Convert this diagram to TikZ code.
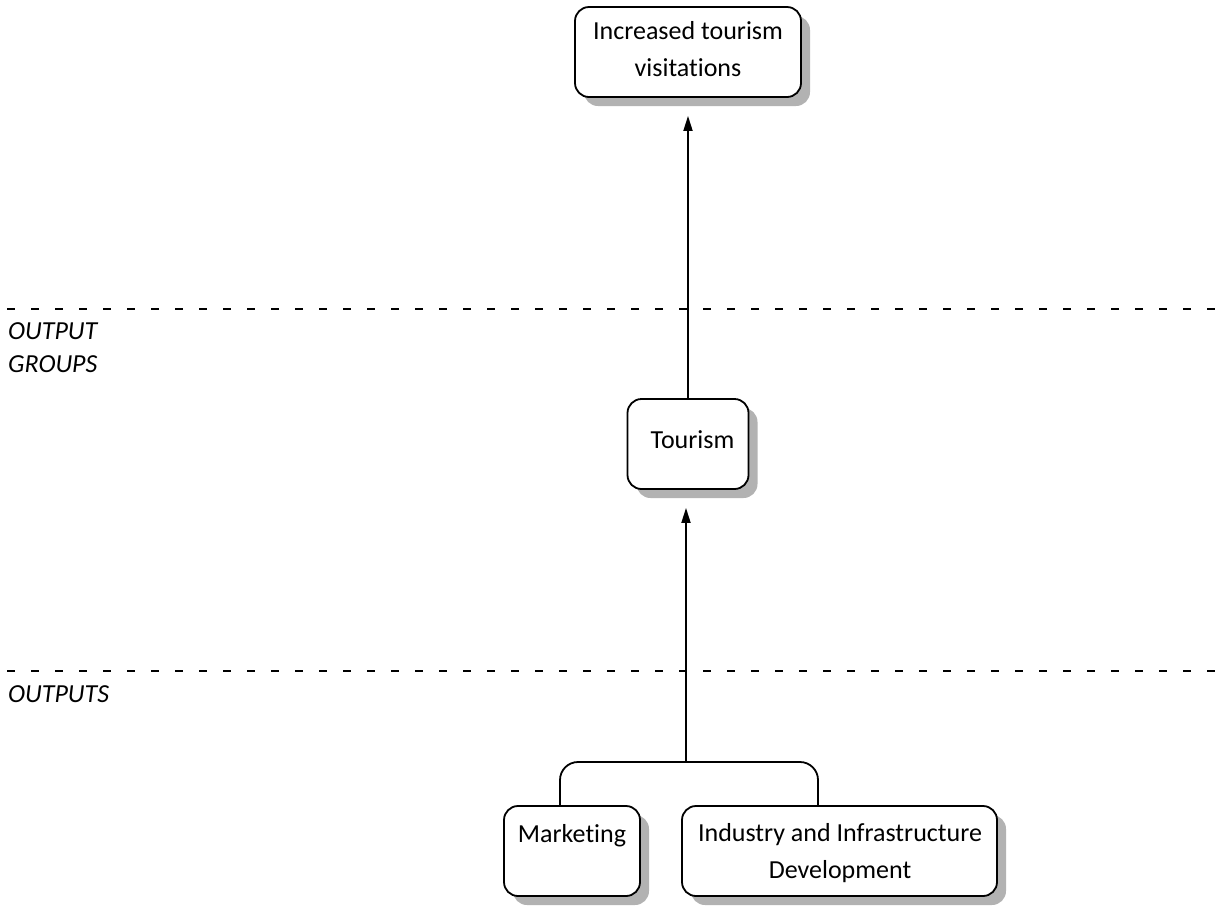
\documentclass[tikz,border=0pt]{standalone}
\usepackage{fontspec}
\setmainfont{Carlito}[Ligatures=NoCommon]
\usetikzlibrary{arrows.meta,shadows,calc}

\begin{document}
\begin{tikzpicture}[x=1pt,y=-1pt,
  ln/.style={line width=1.8pt, draw=black},
  box/.style={ln, rounded corners=14pt, fill=white, minimum height=90pt,
    inner sep=0pt,
    drop shadow={shadow xshift=9pt, shadow yshift=-9pt, fill=black!30, opacity=1}},
  txt/.style={inner sep=0pt, font=\fontsize{26}{37}\selectfont, align=center},
  layer/.style={inner sep=0pt, font=\fontsize{26}{33}\selectfont\itshape, align=left},
  arr/.style={ln, -{Triangle[length=15pt, width=9pt]}, shorten >=18pt},
  divider/.style={line width=1.8pt, dash pattern=on 8pt off 16pt}
]
\useasboundingbox (0,0) rectangle (1215,906);

% layer dividers
\coordinate (d1a) at (7,309);  \coordinate (d1b) at (1215,309);
\coordinate (d2a) at (7,671);  \coordinate (d2b) at (1215,671);
\draw[divider] (d1a) -- (d1b);
\draw[divider] (d2a) -- (d2b);

\node[layer, anchor=west] (lgroups) at (8,348) {OUTPUT\\GROUPS};
\node[layer, anchor=base west] (louts) at (8,702) {OUTPUTS};

% boxes
\node[box, minimum width=226pt] (goal) at (688,52) {};
\node[box, minimum width=121pt] (tour) at (688,444) {};
\node[box, minimum width=136pt] (mkt) at (572,851) {};
\node[box, minimum width=315pt] (ind) at (839.5,851) {};

% box texts
\node[txt] (goalT) at (688,49) {Increased tourism\\visitations};
\node[txt, anchor=base] (tourT) at (692.5,448) {Tourism};
\node[txt, anchor=base] (mktT) at (572,842) {Marketing};
\node[txt] (indT) at (840,853) {Industry and Infrastructure\\Development};

% connectors
\coordinate (join) at (686,762);
\coordinate (mktin) at (560,806);
\coordinate (indin) at (818,806);
\draw[ln, rounded corners=18pt] (mktin) |- (join) -| (indin);
\draw[arr] (join) -- (join |- tour.south);
\draw[arr] (tour.north) -- (tour.north |- goal.south);
\end{tikzpicture}
\end{document}
